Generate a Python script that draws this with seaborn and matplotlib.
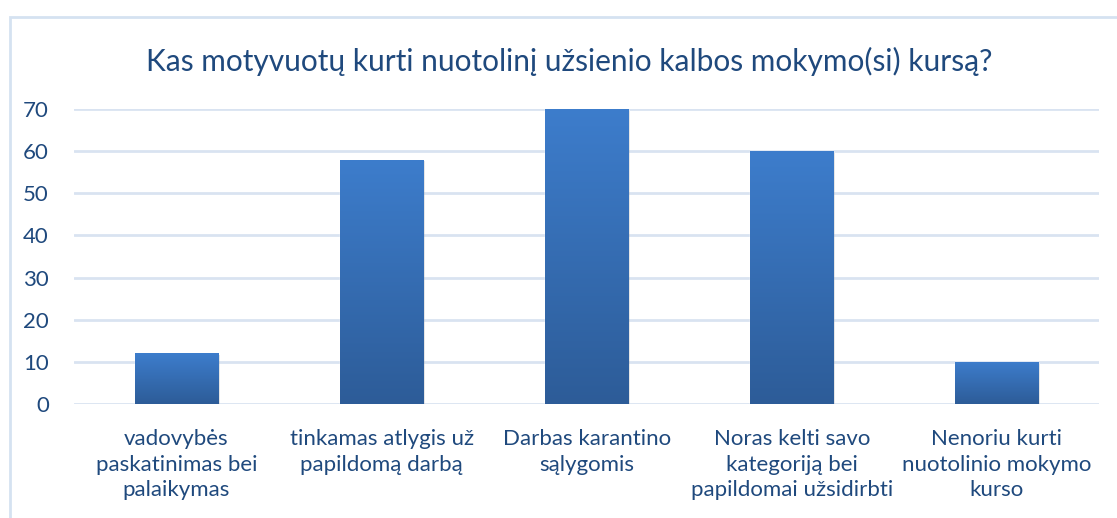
import numpy as np
import pandas as pd
import matplotlib
matplotlib.use('Agg')
import matplotlib.pyplot as plt
import seaborn as sns
from matplotlib.patches import Rectangle
from matplotlib.colors import LinearSegmentedColormap

# data
categories = [
    'vadovybės\npaskatinimas bei\npalaikymas',
    'tinkamas atlygis už\npapildomą darbą',
    'Darbas karantino\nsąlygomis',
    'Noras kelti savo\nkategoriją bei\npapildomai užsidirbti',
    'Nenoriu kurti\nnuotolinio mokymo\nkurso',
]
counts = [12, 58, 70, 60, 10]
title = 'Kas motyvuotų kurti nuotolinį užsienio kalbos mokymo(si) kursą?'
y_ticks = [0, 10, 20, 30, 40, 50, 60, 70]

text_color = '#1F497D'
grid_color = '#D9E3F1'

sns.set_theme(style='white')
plt.rcParams['font.family'] = ['Lato', 'DejaVu Sans']

df = pd.DataFrame({'category': categories, 'count': counts})

fig = plt.figure(figsize=(11.17, 5.18), dpi=100)
ax = fig.add_axes([0.0662, 0.22, 0.918, 0.5696])

sns.barplot(data=df, x='category', y='count', color='#3A78C4', width=0.405,
            ax=ax, zorder=3)

ax.set_ylim(0, 70)
ax.set_xlim(-0.5, len(categories) - 0.5)
ax.set_yticks(y_ticks)
ax.yaxis.grid(True, color=grid_color, linewidth=2, zorder=0)
ax.set_axisbelow(True)
for s in ax.spines.values():
    s.set_visible(False)
ax.set_xlabel('')
ax.set_ylabel('')
ax.tick_params(axis='y', length=0, pad=18, labelsize=16, labelcolor=text_color)
ax.tick_params(axis='x', length=0, pad=18, labelsize=16, labelcolor=text_color)
for lbl in ax.get_xticklabels():
    lbl.set_linespacing(1.35)

# vertical gradient on the bars (lighter top, darker bottom)
cmap = LinearSegmentedColormap.from_list('bar', ['#2D5C98', '#3D7DCC'])
grad = np.linspace(0, 1, 256).reshape(-1, 1)
for p in list(ax.patches):
    x0, y0 = p.get_x(), p.get_y()
    w, h = p.get_width(), p.get_height()
    # soft shadow
    ax.add_patch(Rectangle((x0 + 0.01, y0 - 0.4), w, h, color='#000000',
                           alpha=0.12, zorder=2, linewidth=0))
    im = ax.imshow(grad, extent=[x0, x0 + w, y0, y0 + h], origin='lower',
                   cmap=cmap, aspect='auto', zorder=4)
    im.set_clip_path(p)
ax.set_xlim(-0.5, len(categories) - 0.5)
ax.set_ylim(0, 70)

fig.text(0.5095, 0.882, title, ha='center', va='center', fontsize=21.5,
         color=text_color)

# chart frame
fig.patches.append(Rectangle((10 / 1117, -0.05), 1.2, 1 - 17 / 518 + 0.05,
                             transform=fig.transFigure, fill=False,
                             edgecolor='#D5E2F1', linewidth=2))

fig.savefig('out.png', dpi=100)
